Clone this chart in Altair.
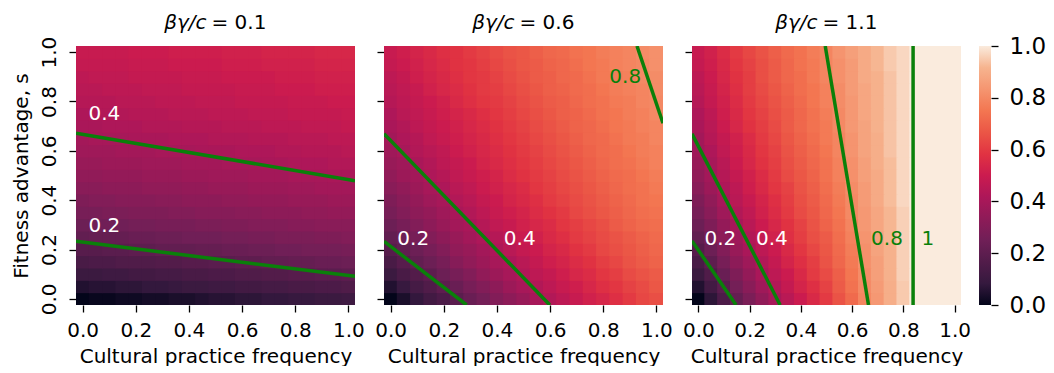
import altair as alt
import pandas as pd

X_VALUES = [0.00, 0.05, 0.10, 0.15, 0.20, 0.25, 0.30, 0.35, 0.40, 0.45, 0.50,
            0.55, 0.60, 0.65, 0.70, 0.75, 0.80, 0.85, 0.90, 0.95, 1.00]
S_VALUES = [0.00, 0.05, 0.10, 0.15, 0.20, 0.25, 0.30, 0.35, 0.40, 0.45, 0.50,
            0.55, 0.60, 0.65, 0.70, 0.75, 0.80, 0.85, 0.90, 0.95, 1.00]
TICKS = [0.0, 0.2, 0.4, 0.6, 0.8, 1.0]
TITLE_SYMBOL = "βγ/c"
TITLE_VALUES = ["= 0.1", "= 0.6", "= 1.1"]

# rows: fitness advantage s = 0.00 ... 1.00 ; columns: frequency 0.00 ... 1.00
PANEL_1 = [
    [0.00, 0.01, 0.01, 0.02, 0.02, 0.03, 0.03, 0.04, 0.04, 0.05, 0.06, 0.06, 0.07, 0.07, 0.08, 0.08, 0.09, 0.09, 0.10, 0.10, 0.11],
    [0.05, 0.06, 0.06, 0.07, 0.07, 0.08, 0.08, 0.09, 0.10, 0.10, 0.11, 0.11, 0.12, 0.12, 0.13, 0.13, 0.14, 0.14, 0.15, 0.15, 0.16],
    [0.10, 0.10, 0.11, 0.11, 0.12, 0.12, 0.13, 0.13, 0.14, 0.14, 0.15, 0.15, 0.16, 0.16, 0.17, 0.17, 0.18, 0.18, 0.19, 0.19, 0.20],
    [0.14, 0.15, 0.15, 0.16, 0.16, 0.16, 0.17, 0.17, 0.18, 0.18, 0.19, 0.19, 0.20, 0.20, 0.21, 0.21, 0.22, 0.22, 0.23, 0.23, 0.24],
    [0.18, 0.18, 0.19, 0.19, 0.20, 0.20, 0.21, 0.21, 0.21, 0.22, 0.22, 0.23, 0.23, 0.24, 0.24, 0.25, 0.25, 0.26, 0.26, 0.26, 0.27],
    [0.21, 0.22, 0.22, 0.22, 0.23, 0.23, 0.24, 0.24, 0.25, 0.25, 0.25, 0.26, 0.26, 0.27, 0.27, 0.28, 0.28, 0.28, 0.29, 0.29, 0.30],
    [0.24, 0.25, 0.25, 0.25, 0.26, 0.26, 0.27, 0.27, 0.27, 0.28, 0.28, 0.29, 0.29, 0.30, 0.30, 0.30, 0.31, 0.31, 0.32, 0.32, 0.32],
    [0.27, 0.27, 0.28, 0.28, 0.29, 0.29, 0.29, 0.30, 0.30, 0.31, 0.31, 0.31, 0.32, 0.32, 0.33, 0.33, 0.33, 0.34, 0.34, 0.35, 0.35],
    [0.29, 0.30, 0.30, 0.31, 0.31, 0.31, 0.32, 0.32, 0.33, 0.33, 0.33, 0.34, 0.34, 0.35, 0.35, 0.35, 0.36, 0.36, 0.36, 0.37, 0.37],
    [0.32, 0.32, 0.33, 0.33, 0.33, 0.34, 0.34, 0.34, 0.35, 0.35, 0.36, 0.36, 0.36, 0.37, 0.37, 0.37, 0.38, 0.38, 0.39, 0.39, 0.39],
    [0.34, 0.34, 0.35, 0.35, 0.35, 0.36, 0.36, 0.36, 0.37, 0.37, 0.38, 0.38, 0.38, 0.39, 0.39, 0.39, 0.40, 0.40, 0.40, 0.41, 0.41],
    [0.36, 0.36, 0.37, 0.37, 0.37, 0.38, 0.38, 0.38, 0.39, 0.39, 0.39, 0.40, 0.40, 0.40, 0.41, 0.41, 0.42, 0.42, 0.42, 0.43, 0.43],
    [0.38, 0.38, 0.38, 0.39, 0.39, 0.39, 0.40, 0.40, 0.40, 0.41, 0.41, 0.41, 0.42, 0.42, 0.42, 0.43, 0.43, 0.44, 0.44, 0.44, 0.45],
    [0.39, 0.40, 0.40, 0.40, 0.41, 0.41, 0.41, 0.42, 0.42, 0.42, 0.43, 0.43, 0.43, 0.44, 0.44, 0.44, 0.45, 0.45, 0.45, 0.46, 0.46],
    [0.41, 0.41, 0.42, 0.42, 0.42, 0.43, 0.43, 0.43, 0.44, 0.44, 0.44, 0.45, 0.45, 0.45, 0.46, 0.46, 0.46, 0.47, 0.47, 0.47, 0.48],
    [0.42, 0.43, 0.43, 0.43, 0.44, 0.44, 0.44, 0.45, 0.45, 0.45, 0.46, 0.46, 0.46, 0.47, 0.47, 0.47, 0.48, 0.48, 0.48, 0.48, 0.49],
    [0.44, 0.44, 0.44, 0.45, 0.45, 0.45, 0.46, 0.46, 0.46, 0.47, 0.47, 0.47, 0.48, 0.48, 0.48, 0.48, 0.49, 0.49, 0.49, 0.50, 0.50],
    [0.45, 0.45, 0.46, 0.46, 0.46, 0.47, 0.47, 0.47, 0.48, 0.48, 0.48, 0.48, 0.49, 0.49, 0.49, 0.50, 0.50, 0.50, 0.51, 0.51, 0.51],
    [0.46, 0.47, 0.47, 0.47, 0.48, 0.48, 0.48, 0.48, 0.49, 0.49, 0.49, 0.50, 0.50, 0.50, 0.50, 0.51, 0.51, 0.51, 0.52, 0.52, 0.52],
    [0.48, 0.48, 0.48, 0.48, 0.49, 0.49, 0.49, 0.50, 0.50, 0.50, 0.50, 0.51, 0.51, 0.51, 0.52, 0.52, 0.52, 0.52, 0.53, 0.53, 0.53],
    [0.49, 0.49, 0.49, 0.49, 0.50, 0.50, 0.50, 0.51, 0.51, 0.51, 0.51, 0.52, 0.52, 0.52, 0.53, 0.53, 0.53, 0.53, 0.54, 0.54, 0.54],
]

PANEL_2 = [
    [0.00, 0.04, 0.08, 0.12, 0.15, 0.19, 0.23, 0.26, 0.30, 0.33, 0.36, 0.40, 0.43, 0.46, 0.49, 0.52, 0.54, 0.57, 0.60, 0.63, 0.65],
    [0.05, 0.09, 0.13, 0.16, 0.20, 0.23, 0.27, 0.30, 0.33, 0.37, 0.40, 0.43, 0.46, 0.49, 0.51, 0.54, 0.57, 0.59, 0.62, 0.64, 0.67],
    [0.10, 0.14, 0.17, 0.20, 0.24, 0.27, 0.30, 0.34, 0.37, 0.40, 0.43, 0.46, 0.48, 0.51, 0.54, 0.56, 0.59, 0.61, 0.64, 0.66, 0.68],
    [0.14, 0.18, 0.21, 0.24, 0.27, 0.31, 0.34, 0.37, 0.40, 0.42, 0.45, 0.48, 0.51, 0.53, 0.56, 0.58, 0.61, 0.63, 0.66, 0.68, 0.70],
    [0.18, 0.21, 0.24, 0.27, 0.30, 0.34, 0.36, 0.39, 0.42, 0.45, 0.48, 0.50, 0.53, 0.55, 0.58, 0.60, 0.63, 0.65, 0.67, 0.69, 0.71],
    [0.21, 0.24, 0.27, 0.30, 0.33, 0.36, 0.39, 0.42, 0.44, 0.47, 0.50, 0.52, 0.55, 0.57, 0.60, 0.62, 0.64, 0.66, 0.68, 0.70, 0.72],
    [0.24, 0.27, 0.30, 0.33, 0.36, 0.39, 0.41, 0.44, 0.47, 0.49, 0.52, 0.54, 0.56, 0.59, 0.61, 0.63, 0.65, 0.68, 0.70, 0.72, 0.73],
    [0.27, 0.30, 0.33, 0.35, 0.38, 0.41, 0.43, 0.46, 0.49, 0.51, 0.53, 0.56, 0.58, 0.60, 0.63, 0.65, 0.67, 0.69, 0.71, 0.73, 0.74],
    [0.29, 0.32, 0.35, 0.38, 0.40, 0.43, 0.45, 0.48, 0.50, 0.53, 0.55, 0.57, 0.60, 0.62, 0.64, 0.66, 0.68, 0.70, 0.72, 0.74, 0.75],
    [0.32, 0.34, 0.37, 0.40, 0.42, 0.45, 0.47, 0.50, 0.52, 0.54, 0.56, 0.59, 0.61, 0.63, 0.65, 0.67, 0.69, 0.71, 0.73, 0.74, 0.76],
    [0.34, 0.37, 0.39, 0.42, 0.44, 0.47, 0.49, 0.51, 0.53, 0.56, 0.58, 0.60, 0.62, 0.64, 0.66, 0.68, 0.70, 0.72, 0.73, 0.75, 0.77],
    [0.36, 0.38, 0.41, 0.43, 0.46, 0.48, 0.50, 0.53, 0.55, 0.57, 0.59, 0.61, 0.63, 0.65, 0.67, 0.69, 0.71, 0.73, 0.74, 0.76, 0.78],
    [0.38, 0.40, 0.43, 0.45, 0.47, 0.50, 0.52, 0.54, 0.56, 0.58, 0.60, 0.62, 0.64, 0.66, 0.68, 0.70, 0.72, 0.73, 0.75, 0.77, 0.78],
    [0.39, 0.42, 0.44, 0.47, 0.49, 0.51, 0.53, 0.55, 0.57, 0.59, 0.61, 0.63, 0.65, 0.67, 0.69, 0.71, 0.72, 0.74, 0.76, 0.77, 0.79],
    [0.41, 0.43, 0.46, 0.48, 0.50, 0.52, 0.54, 0.56, 0.58, 0.60, 0.62, 0.64, 0.66, 0.68, 0.70, 0.71, 0.73, 0.75, 0.76, 0.78, 0.79],
    [0.42, 0.45, 0.47, 0.49, 0.51, 0.53, 0.55, 0.57, 0.59, 0.61, 0.63, 0.65, 0.67, 0.69, 0.70, 0.72, 0.74, 0.75, 0.77, 0.78, 0.80],
    [0.44, 0.46, 0.48, 0.50, 0.52, 0.55, 0.57, 0.59, 0.60, 0.62, 0.64, 0.66, 0.68, 0.69, 0.71, 0.73, 0.74, 0.76, 0.77, 0.79, 0.80],
    [0.45, 0.47, 0.49, 0.52, 0.54, 0.56, 0.58, 0.60, 0.61, 0.63, 0.65, 0.67, 0.69, 0.70, 0.72, 0.73, 0.75, 0.77, 0.78, 0.79, 0.81],
    [0.46, 0.48, 0.51, 0.53, 0.55, 0.57, 0.59, 0.60, 0.62, 0.64, 0.66, 0.68, 0.69, 0.71, 0.72, 0.74, 0.76, 0.77, 0.78, 0.80, 0.81],
    [0.48, 0.50, 0.52, 0.54, 0.56, 0.58, 0.59, 0.61, 0.63, 0.65, 0.67, 0.68, 0.70, 0.71, 0.73, 0.75, 0.76, 0.78, 0.79, 0.80, 0.82],
    [0.49, 0.51, 0.53, 0.55, 0.57, 0.58, 0.60, 0.62, 0.64, 0.66, 0.67, 0.69, 0.71, 0.72, 0.74, 0.75, 0.77, 0.78, 0.79, 0.81, 0.82],
]

PANEL_3 = [
    [0.00, 0.07, 0.15, 0.22, 0.28, 0.34, 0.40, 0.45, 0.50, 0.55, 0.60, 0.66, 0.72, 0.79, 0.84, 0.90, 0.95, 1.00, 1.00, 1.00, 1.00],
    [0.05, 0.12, 0.19, 0.26, 0.32, 0.38, 0.43, 0.48, 0.53, 0.57, 0.62, 0.68, 0.74, 0.80, 0.85, 0.90, 0.95, 1.00, 1.00, 1.00, 1.00],
    [0.10, 0.16, 0.23, 0.29, 0.35, 0.41, 0.46, 0.50, 0.55, 0.60, 0.64, 0.69, 0.75, 0.81, 0.86, 0.91, 0.96, 1.00, 1.00, 1.00, 1.00],
    [0.14, 0.20, 0.27, 0.33, 0.38, 0.43, 0.48, 0.53, 0.57, 0.61, 0.66, 0.71, 0.76, 0.82, 0.86, 0.91, 0.96, 1.00, 1.00, 1.00, 1.00],
    [0.18, 0.24, 0.30, 0.36, 0.41, 0.46, 0.50, 0.55, 0.59, 0.63, 0.67, 0.72, 0.77, 0.82, 0.87, 0.91, 0.96, 1.00, 1.00, 1.00, 1.00],
    [0.21, 0.27, 0.33, 0.38, 0.43, 0.48, 0.52, 0.57, 0.61, 0.65, 0.68, 0.73, 0.78, 0.83, 0.87, 0.92, 0.96, 1.00, 1.00, 1.00, 1.00],
    [0.24, 0.29, 0.35, 0.40, 0.45, 0.50, 0.54, 0.58, 0.62, 0.66, 0.70, 0.74, 0.79, 0.84, 0.88, 0.92, 0.96, 1.00, 1.00, 1.00, 1.00],
    [0.27, 0.32, 0.38, 0.43, 0.47, 0.52, 0.56, 0.60, 0.64, 0.67, 0.71, 0.75, 0.80, 0.84, 0.88, 0.92, 0.96, 1.00, 1.00, 1.00, 1.00],
    [0.29, 0.34, 0.40, 0.45, 0.49, 0.53, 0.57, 0.61, 0.65, 0.68, 0.72, 0.76, 0.80, 0.85, 0.89, 0.93, 0.97, 1.00, 1.00, 1.00, 1.00],
    [0.32, 0.37, 0.42, 0.46, 0.51, 0.55, 0.59, 0.62, 0.66, 0.69, 0.73, 0.77, 0.81, 0.85, 0.89, 0.93, 0.97, 1.00, 1.00, 1.00, 1.00],
    [0.34, 0.39, 0.44, 0.48, 0.52, 0.56, 0.60, 0.64, 0.67, 0.70, 0.74, 0.78, 0.82, 0.86, 0.89, 0.93, 0.97, 1.00, 1.00, 1.00, 1.00],
    [0.36, 0.40, 0.45, 0.50, 0.54, 0.58, 0.61, 0.65, 0.68, 0.71, 0.74, 0.78, 0.82, 0.86, 0.90, 0.93, 0.97, 1.00, 1.00, 1.00, 1.00],
    [0.38, 0.42, 0.47, 0.51, 0.55, 0.59, 0.62, 0.66, 0.69, 0.72, 0.75, 0.79, 0.83, 0.87, 0.90, 0.94, 0.97, 1.00, 1.00, 1.00, 1.00],
    [0.39, 0.44, 0.48, 0.52, 0.56, 0.60, 0.63, 0.67, 0.70, 0.73, 0.76, 0.79, 0.83, 0.87, 0.90, 0.94, 0.97, 1.00, 1.00, 1.00, 1.00],
    [0.41, 0.45, 0.50, 0.54, 0.58, 0.61, 0.64, 0.68, 0.71, 0.74, 0.76, 0.80, 0.84, 0.87, 0.91, 0.94, 0.97, 1.00, 1.00, 1.00, 1.00],
    [0.42, 0.46, 0.51, 0.55, 0.59, 0.62, 0.65, 0.68, 0.71, 0.74, 0.77, 0.80, 0.84, 0.88, 0.91, 0.94, 0.97, 1.00, 1.00, 1.00, 1.00],
    [0.44, 0.48, 0.52, 0.56, 0.60, 0.63, 0.66, 0.69, 0.72, 0.75, 0.78, 0.81, 0.84, 0.88, 0.91, 0.94, 0.97, 1.00, 1.00, 1.00, 1.00],
    [0.45, 0.49, 0.53, 0.57, 0.61, 0.64, 0.67, 0.70, 0.73, 0.75, 0.78, 0.81, 0.85, 0.88, 0.91, 0.94, 0.97, 1.00, 1.00, 1.00, 1.00],
    [0.46, 0.50, 0.54, 0.58, 0.61, 0.65, 0.68, 0.71, 0.73, 0.76, 0.79, 0.82, 0.85, 0.89, 0.91, 0.94, 0.97, 1.00, 1.00, 1.00, 1.00],
    [0.48, 0.51, 0.55, 0.59, 0.62, 0.65, 0.68, 0.71, 0.74, 0.76, 0.79, 0.82, 0.85, 0.89, 0.92, 0.95, 0.97, 1.00, 1.00, 1.00, 1.00],
    [0.49, 0.52, 0.56, 0.60, 0.63, 0.66, 0.69, 0.72, 0.74, 0.77, 0.79, 0.83, 0.86, 0.89, 0.92, 0.95, 0.97, 1.00, 1.00, 1.00, 1.00],
]
GRIDS = [PANEL_1, PANEL_2, PANEL_3]

# contour lines, start/end points in data units
CONTOUR_PANEL = [0, 0, 1, 1, 1, 2, 2, 2, 2]
CONTOUR_LEVEL = ["0.4", "0.2", "0.2", "0.4", "0.8", "0.2", "0.4", "0.8", "1"]
CONTOUR_X_START = [-0.025, -0.025, -0.025, -0.025, 0.927, -0.025, -0.025, 0.495, 0.838]
CONTOUR_S_START = [0.671, 0.233, 0.233, 0.669, 1.025, 0.235, 0.669, 1.025, 1.025]
CONTOUR_X_END = [1.025, 1.025, 0.286, 0.599, 1.025, 0.147, 0.319, 0.664, 0.838]
CONTOUR_S_END = [0.479, 0.091, -0.025, -0.025, 0.712, -0.025, -0.025, -0.025, -0.025]

# contour labels
LABEL_PANEL = [0, 0, 1, 1, 1, 2, 2, 2, 2]
LABEL_TEXT = ["0.4", "0.2", "0.2", "0.4", "0.8", "0.2", "0.4", "0.8", "1"]
LABEL_X = [0.082, 0.082, 0.085, 0.486, 0.883, 0.086, 0.287, 0.736, 0.896]
LABEL_S = [0.750, 0.296, 0.242, 0.242, 0.899, 0.242, 0.242, 0.242, 0.242]
LABEL_COLOR = ["white", "white", "white", "white", "#0a800a", "white", "white", "#0a800a", "#0a800a"]

# style
FONT = "DejaVu Sans"
GREEN = "#0a800a"
ROCKET_POS = [0.0, 0.083, 0.167, 0.25, 0.333, 0.417, 0.5, 0.583, 0.667, 0.75, 0.833, 0.917, 1.0]
ROCKET_HEX = ["#03051a", "#35193e", "#521c4a", "#701f57", "#8e1b58", "#ad1759", "#cb1b4f",
              "#e13342", "#eb5646", "#f37651", "#f59570", "#f6b48f", "#faebdd"]
WIDTHS = [279, 279, 269]
HEIGHT = 259
XTITLE = "Cultural practice frequency"

cscale = alt.Scale(domain=ROCKET_POS, range=ROCKET_HEX, interpolate="rgb", clamp=True)
xscale = alt.Scale(domain=[-0.025, 1.025], nice=False, zero=False)
yscale = alt.Scale(domain=[-0.025, 1.025], nice=False, zero=False)

common_axis = dict(values=TICKS, format=".1f", domain=False, grid=False, tickSize=7,
                   tickWidth=1.3, tickColor="black", labelFontSize=20, titleFontSize=20,
                   labelFont=FONT, titleFont=FONT, titleFontWeight="normal",
                   labelColor="black", titleColor="black")


def make_panel(k):
    rows = []
    for j, s in enumerate(S_VALUES):
        for i, x in enumerate(X_VALUES):
            rows.append({"x": x, "s": s, "v": GRIDS[k][j][i]})
    cells = pd.DataFrame(rows)

    xaxis = alt.Axis(labelPadding=8, titlePadding=6, **common_axis)
    if k == 0:
        yaxis = alt.Axis(labelAngle=-90, labelAlign="center", labelBaseline="bottom",
                         labelPadding=10, titlePadding=8, **common_axis)
        ytitle = "Fitness advantage, s"
    else:
        yaxis = alt.Axis(labels=False, **common_axis)
        ytitle = ""

    heat = alt.Chart(cells).transform_calculate(
        x0="datum.x - 0.027", x1="datum.x + 0.027",
        s0="datum.s - 0.027", s1="datum.s + 0.027",
    ).mark_rect(clip=True).encode(
        x=alt.X("x0:Q", scale=xscale, axis=xaxis, title=XTITLE),
        x2="x1:Q",
        y=alt.Y("s0:Q", scale=yscale, axis=yaxis, title=ytitle),
        y2="s1:Q",
        color=alt.Color("v:Q", scale=cscale, legend=None),
    )

    lpts = []
    for n, p in enumerate(CONTOUR_PANEL):
        if p == k:
            lpts.append({"lvl": CONTOUR_LEVEL[n] + "_" + str(n), "o": 0,
                         "x0": CONTOUR_X_START[n], "s0": CONTOUR_S_START[n]})
            lpts.append({"lvl": CONTOUR_LEVEL[n] + "_" + str(n), "o": 1,
                         "x0": CONTOUR_X_END[n], "s0": CONTOUR_S_END[n]})
    lines = alt.Chart(pd.DataFrame(lpts)).mark_line(
        color=GREEN, strokeWidth=3.5, clip=True
    ).encode(
        x=alt.X("x0:Q", scale=xscale, axis=xaxis, title=XTITLE),
        y=alt.Y("s0:Q", scale=yscale, axis=yaxis, title=ytitle),
        detail="lvl:N",
        order="o:O",
    )

    lab = []
    for n, p in enumerate(LABEL_PANEL):
        if p == k:
            lab.append({"t": LABEL_TEXT[n], "x0": LABEL_X[n], "s0": LABEL_S[n], "c": LABEL_COLOR[n]})
    labels = alt.Chart(pd.DataFrame(lab)).mark_text(
        font=FONT, fontSize=20, align="center", baseline="middle"
    ).encode(
        x=alt.X("x0:Q", scale=xscale, axis=xaxis, title=XTITLE),
        y=alt.Y("s0:Q", scale=yscale, axis=yaxis, title=ytitle),
        text="t:N",
        color=alt.Color("c:N", scale=None),
    )

    c = WIDTHS[k] / 2.0
    tdf = pd.DataFrame({"sym": [TITLE_SYMBOL], "val": [TITLE_VALUES[k]]})
    t_sym = alt.Chart(tdf).mark_text(
        font=FONT, fontSize=20, fontStyle="italic", align="right", baseline="middle",
        color="black",
    ).encode(text="sym:N", x=alt.value(c - 9), y=alt.value(-23))
    t_val = alt.Chart(tdf).mark_text(
        font=FONT, fontSize=20, align="left", baseline="middle", color="black",
    ).encode(text="val:N", x=alt.value(c - 4), y=alt.value(-23))

    return alt.layer(heat, lines, labels, t_sym, t_val).properties(
        width=WIDTHS[k], height=HEIGHT,
    )


grad = alt.LinearGradient(
    gradient="linear",
    stops=[alt.GradientStop(color=c, offset=o) for o, c in zip(ROCKET_POS, ROCKET_HEX)],
    x1=0, x2=0, y1=1, y2=0,
)
cbar = alt.Chart(pd.DataFrame({"lo": [0.0], "hi": [1.0]})).mark_rect(color=grad).encode(
    x=alt.value(-11),
    x2=alt.value(1),
    y=alt.Y("lo:Q", scale=alt.Scale(domain=[0, 1], nice=False, zero=False),
            axis=alt.Axis(orient="right", values=TICKS, format=".1f", domain=False,
                          grid=False, tickSize=7, tickWidth=1.3, tickColor="black",
                          labelFontSize=23, labelFont=FONT, labelColor="black",
                          labelPadding=11),
            title=None),
    y2="hi:Q",
).properties(width=1, height=HEIGHT)

chart = alt.hconcat(
    make_panel(0), make_panel(1), make_panel(2), cbar,
    spacing=29, bounds="flush", padding={"left": 3, "top": 5, "right": 0, "bottom": 0},
).configure_view(stroke=None)

chart.save("out.html", embed_options={"renderer": "svg", "actions": False})
